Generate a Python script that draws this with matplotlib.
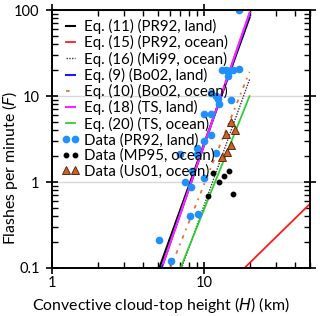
import numpy as np
import matplotlib
matplotlib.use("Agg")
import matplotlib.pyplot as plt

plt.rcParams['font.family'] = ['Lato', 'DejaVu Sans']

# power-law fits F = a * H**b, with H range for each curve
eqLabels = ['Eq. (11) (PR92, land)', 'Eq. (15) (PR92, ocean)', 'Eq. (16) (Mi99, ocean)',
            'Eq. (9) (Bo02, land)', 'Eq. (10) (Bo02, ocean)', 'Eq. (18) (TS, land)',
            'Eq. (20) (TS, ocean)']
eqCoef = [3.44e-5, 6.4e-4, 6.57e-6, 2.08e-5, 3.83e-5, 1.97e-5, 1.88e-5]
eqExp = [4.9, 1.73, 4.9, 5.1, 4.38, 5.13, 4.4]
eqHmin = [5.0, 15.0, 7.0, 5.3, 6.0, 5.4, 7.0]
eqHmax = [20, 50, 20, 20, 20, 20, 20]

# observations
pr92H = [17.0, 13.1, 13.9, 14.6, 15.5, 17.0, 14.4, 11.1, 12.1, 12.4, 12.6, 15.1,
         10.1, 11.1, 11.1, 10.1, 9.0, 9.0, 7.0, 12.1, 8.3, 7.5, 8.2, 10.1, 8.1, 9.1, 5.05, 6.1]
pr92F = [100, 20.3, 19.9, 19.6, 20.2, 20.4, 17.1, 10.9, 10.0, 9.3, 8.0, 9.1,
         6.2, 6.2, 3.5, 3.0, 2.5, 2.1, 2.1, 2.2, 1.35, 1.0, 0.88, 1.12, 0.40, 0.42, 0.21, 0.12]
mp95H = [11.5, 14.6, 13.6, 12.6, 10.6, 15.5]
mp95F = [1.28, 1.35, 1.17, 1.0, 0.69, 0.72]
us01H = [15.0, 16.1, 13.9, 15.1, 14.3, 13.1]
us01F = [5.0, 4.08, 3.66, 2.68, 2.24, 1.96]

colors = ['black', '#ff1a1a', '#333333', '#1a1aff', '#e8703a', '#ff22ff', '#33cc33']
styles = ['-', '-', (0, (1, 1)), '-', (0, (2, 3, 1, 3)), '-', '-']
widths = [1.5, 1.3, 1.0, 1.5, 1.3, 1.5, 1.3]

fig = plt.figure(figsize=(3.2, 3.16), dpi=100)
ax = fig.add_axes([0.1625, 0.152, 0.806, 0.816])

for i in range(len(eqLabels)):
    H = np.linspace(eqHmin[i], eqHmax[i], 200)
    ax.plot(H, eqCoef[i]*H**eqExp[i], color=colors[i], ls=styles[i], lw=widths[i], label=eqLabels[i])

ax.plot(pr92H, pr92F, 'o', color='#1e90ff', ms=4.5, ls='none', label='Data (PR92, land)')
ax.plot(mp95H, mp95F, 'o', color='black', ms=3.2, ls='none', label='Data (MP95, ocean)')
ax.plot(us01H, us01F, '^', color='#c8642a', mec='#5a2a10', mew=0.7, ms=5.2, ls='none', label='Data (Us01, ocean)')

ax.set_xscale('log')
ax.set_yscale('log')
ax.set_xlim(1, 50)
ax.set_ylim(0.1, 100)
ax.set_xticks([1, 10])
ax.set_xticklabels(['1', '10'])
ax.set_yticks([0.1, 1, 10, 100])
ax.set_yticklabels(['0.1', '1', '10', '100'])
ax.yaxis.grid(True, which='major', color='#d8d8d8', lw=1)
ax.set_axisbelow(True)
ax.tick_params(which='major', direction='inout', length=8, width=1.2, top=True, right=True, labelsize=10.5)
ax.tick_params(axis='x', which='major', pad=2)
ax.tick_params(axis='y', which='major', pad=5)
ax.tick_params(which='minor', direction='in', length=4, width=1, top=True, right=True)
for s in ax.spines.values():
    s.set_linewidth(1.4)

ax.set_xlabel('Convective cloud-top height ($\\it{H}$) (km)', fontsize=11.4, va='center')
ax.xaxis.set_label_coords(0.422, -0.143)
ax.set_ylabel('Flashes per minute ($\\it{F}$)', fontsize=11.4, va='center')
ax.yaxis.set_label_coords(-0.163, 0.388)

ax.legend(loc='upper left', frameon=False, fontsize=10.8, numpoints=2, handlelength=1.25,
          handletextpad=0.3, labelspacing=0.08, borderaxespad=0.2, borderpad=0.4)

plt.savefig('out.png', dpi=100)
